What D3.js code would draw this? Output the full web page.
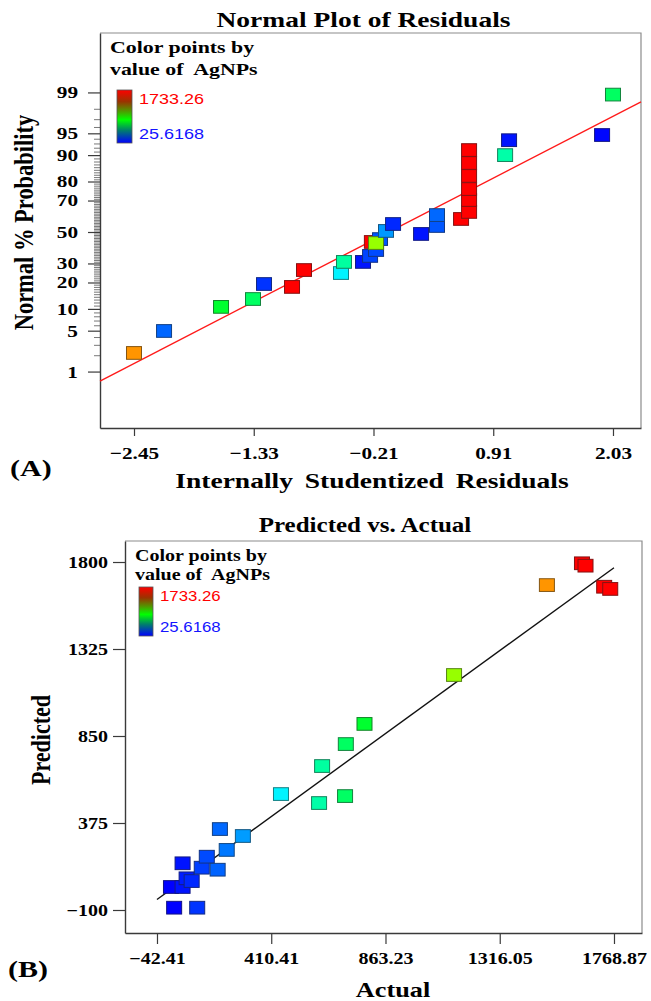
<!DOCTYPE html>
<html><head><meta charset="utf-8">
<script src="https://cdn.jsdelivr.net/npm/d3@7"></script>
<style>body{margin:0;background:#fff}svg{display:block}</style>
</head><body>
<svg id="c" width="651" height="1001"></svg>
<script>
// ---------- Panel A: Normal plot of residuals ----------
const residualsA = [-2.45, -2.169, -1.636, -1.337, -1.234, -0.972, -0.860, -0.514, -0.486, -0.308, -0.242, -0.225, -0.149, -0.186, -0.186, -0.093, -0.027, 0.235, 0.384, 0.384, 0.609, 0.684, 0.684, 0.684, 0.684, 0.684, 0.684, 1.021, 1.058, 1.928, 2.03];
const probPercentA = [2.19, 4.95, 10.6, 13.2, 19.3, 18.0, 26.3, 24.7, 30.9, 30.9, 34.5, 43.4, 45.3, 38.2, 42.7, 50.7, 55.3, 48.7, 54.0, 61.1, 58.6, 63.1, 70.3, 76.3, 82.5, 87.5, 91.4, 90.0, 93.7, 94.7, 98.9];
const agnpsA = [1503, 203, 780, 706, 114, 1733, 1656, 449, 612, 60, 144, 1642, 173, 155, 1135, 292, 95, 59, 175, 207, 1712, 1700, 1690, 1720, 1710, 1695, 1705, 600, 60, 36, 706];
const probTicks = [1, 5, 10, 20, 30, 50, 70, 80, 90, 95, 99];
const residTicks = [-2.45, -1.33, -0.21, 0.91, 2.03];
const fitResidA = [-2.768, 2.292];
const fitPercentA = [0.65, 98.49];

// ---------- Panel B: Predicted vs Actual ----------
const actualB = [13, 25.6, 117, 59, 59, 75, 95, 135, 155, 198, 234, 207, 298, 449, 600, 612, 703, 706, 780, 1135, 1503, 1642, 1656, 1730, 1754];
const predictedB = [25.6, -87.4, -87.4, 25.6, 155, 73, 58, 131, 191, 120, 228, 342, 304, 533, 484, 686, 522, 806, 916, 1183, 1674, 1793, 1780, 1665, 1653];
const actualTicks = [-42.41, 410.41, 863.23, 1316.05, 1768.87];
const predTicks = [-100, 375, 850, 1325, 1800];
const parityLine = [-42.41, 1768.87];

// ---------- colour key ----------
const colorStops = [25.6168, 470, 850, 1330, 1500, 1620, 1733.26];
const colorRange = ["#0000ff", "#00ffff", "#00ff00", "#ffff00", "#ff9900", "#ff0000", "#ff0000"];
const legendMax = "1733.26", legendMin = "25.6168";

// inverse normal CDF (Acklam)
function probit(p) {
  const a = [-3.969683028665376e+01, 2.209460984245205e+02, -2.759285104469687e+02, 1.383577518672690e+02, -3.066479806614716e+01, 2.506628277459239e+00];
  const b = [-5.447609879822406e+01, 1.615858368580409e+02, -1.556989798598866e+02, 6.680131188771972e+01, -1.328068155288572e+01];
  const c = [-7.784894002430293e-03, -3.223964580411365e-01, -2.400758277161838e+00, -2.549732539343734e+00, 4.374664141464968e+00, 2.938163982698783e+00];
  const d = [7.784695709041462e-03, 3.224671290700398e-01, 2.445134137142996e+00, 3.754408661907416e+00];
  const pl = 0.02425;
  let q, r;
  if (p < pl) { q = Math.sqrt(-2 * Math.log(p)); return (((((c[0]*q+c[1])*q+c[2])*q+c[3])*q+c[4])*q+c[5]) / ((((d[0]*q+d[1])*q+d[2])*q+d[3])*q+1); }
  if (p <= 1 - pl) { q = p - 0.5; r = q*q; return (((((a[0]*r+a[1])*r+a[2])*r+a[3])*r+a[4])*r+a[5])*q / (((((b[0]*r+b[1])*r+b[2])*r+b[3])*r+b[4])*r+1); }
  q = Math.sqrt(-2 * Math.log(1 - p)); return -(((((c[0]*q+c[1])*q+c[2])*q+c[3])*q+c[4])*q+c[5]) / ((((d[0]*q+d[1])*q+d[2])*q+d[3])*q+1);
}

const svg = d3.select('#c');
const SX = 1.25;
const SERIF = '"Liberation Serif","Times New Roman",serif';
const SANS = '"Liberation Sans",Arial,sans-serif';
const color = d3.scaleLinear().domain(colorStops).range(colorRange).clamp(true);
const edge = f => d3.interpolateRgb(f, '#202020')(0.55);

function stext(parent, str, x, y, size, o = {}) {
  const t = parent.append('text')
    .attr('transform', `translate(${x},${y}) scale(${o.sx || SX},1)${o.rot ? ' rotate(-90)' : ''}`)
    .attr('text-anchor', o.anchor || 'start')
    .style('font-family', o.family || SERIF)
    .style('font-weight', o.weight || 'bold')
    .style('font-size', size + 'px')
    .attr('fill', o.fill || '#000')
    .text(str);
  if (o.ws) t.style('word-spacing', o.ws + 'px');
  return t;
}
function styleAxis(g, size, sx, xAxis) {
  g.select('.domain').attr('stroke', '#3a3a3a').attr('stroke-width', 1.4);
  g.selectAll('.tick line').attr('stroke', '#3a3a3a').attr('stroke-width', 1.2);
  g.selectAll('.tick text').each(function () {
    const t = d3.select(this);
    let x = +t.attr('x') || 0, y = +t.attr('y') || 0;
    if (xAxis) { y = 31; t.attr('dy', 0); }
    t.attr('x', null).attr('y', null)
      .attr('transform', `translate(${x},${y}) scale(${sx},1)`)
      .style('font-family', SERIF).style('font-weight', 'bold')
      .style('font-size', size + 'px').attr('fill', '#000');
  });
}
function legend(parent, x, y, w, h, lx, size, id) {
  const grad = svg.append('defs').append('linearGradient').attr('id', id)
    .attr('x1', 0).attr('y1', 0).attr('x2', 0).attr('y2', 1);
  [[0, '#ff0000'], [0.22, '#9a3300'], [0.4, '#4f9a00'], [0.56, '#00ff00'], [0.76, '#00806a'], [1, '#0000ff']]
    .forEach(([o, c]) => grad.append('stop').attr('offset', o).attr('stop-color', c));
  parent.append('rect').attr('x', x).attr('y', y).attr('width', w).attr('height', h)
    .attr('fill', `url(#${id})`).attr('stroke', '#555').attr('stroke-width', 0.8);
  stext(parent, legendMax, lx, y + 14, size, { family: SANS, weight: 'normal', fill: '#ff0000', sx: 1.2 });
  stext(parent, legendMin, lx, y + h - 4, size, { family: SANS, weight: 'normal', fill: '#1414ff', sx: 1.2 });
}

// ================= Panel A =================
const gA = svg.append('g');
const xA = d3.scaleLinear().domain([-2.768, 2.292]).range([100, 641]);
const zA = d3.scaleLinear().domain([-3.267, 3.317]).range([428, 33]);
gA.append('path').attr('d', 'M100,33H641V428').attr('fill', 'none').attr('stroke', '#8c8c8c').attr('stroke-width', 1.2);

const minorP = d3.range(1, 100).filter(v => !probTicks.includes(v));
const gMinor = gA.append('g').attr('transform', 'translate(100,0)')
  .call(d3.axisLeft(zA).tickValues(minorP.map(v => probit(v / 100))).tickSize(6).tickFormat('').tickSizeOuter(0));
gMinor.select('.domain').remove();
gMinor.selectAll('.tick line').attr('stroke', '#555').attr('stroke-width', 0.8);

const gyA = gA.append('g').attr('transform', 'translate(100,0)')
  .call(d3.axisLeft(zA).tickValues(probTicks.map(v => probit(v / 100)))
    .tickFormat((z, i) => probTicks[i]).tickSize(12).tickPadding(10).tickSizeOuter(0));
styleAxis(gyA, 17, SX, false);
const gxA = gA.append('g').attr('transform', 'translate(0,428)')
  .call(d3.axisBottom(xA).tickValues(residTicks).tickFormat(d3.format('.2f')).tickSize(8).tickSizeOuter(0));
styleAxis(gxA, 17, SX, true);

gA.append('line')
  .attr('x1', xA(fitResidA[0])).attr('y1', zA(probit(fitPercentA[0] / 100)))
  .attr('x2', xA(fitResidA[1])).attr('y2', zA(probit(fitPercentA[1] / 100)))
  .attr('stroke', '#ff1a1a').attr('stroke-width', 1.4);

const W = 15, H = 12.7;
gA.append('g').selectAll('rect').data(residualsA).join('rect')
  .attr('x', (d, i) => xA(d) - W / 2)
  .attr('y', (d, i) => zA(probit(probPercentA[i] / 100)) - H / 2)
  .attr('width', W).attr('height', H)
  .attr('fill', (d, i) => color(agnpsA[i]))
  .attr('stroke', (d, i) => edge(color(agnpsA[i]))).attr('stroke-width', 1);

stext(gA, 'Normal Plot of Residuals', 363.5, 27, 22, { anchor: 'middle' });
stext(gA, 'Color points by', 110, 53, 17.5);
stext(gA, 'value of\u00a0 AgNPs', 110, 75, 17.5);
legend(gA, 117, 90, 15, 53, 139, 15, 'gradA');
stext(gA, 'Internally Studentized Residuals', 372, 488, 22, { anchor: 'middle', ws: 4 });
stext(gA, 'Normal % Probability', 33, 222.5, 22.5, { anchor: 'middle', rot: true });
stext(gA, '(A)', 10, 476, 24);

// ================= Panel B =================
const gB = svg.append('g');
const xB = d3.scaleLinear().domain([-169.2, 1879.9]).range([125, 642]);
const yB = d3.scaleLinear().domain([-225.6, 1914.7]).range([933, 541]);
gB.append('path').attr('d', 'M125,541H642V933').attr('fill', 'none').attr('stroke', '#8c8c8c').attr('stroke-width', 1.2);
const gyB = gB.append('g').attr('transform', 'translate(125,0)')
  .call(d3.axisLeft(yB).tickValues(predTicks).tickFormat(d3.format('d')).tickSize(12).tickPadding(5).tickSizeOuter(0));
styleAxis(gyB, 16, SX, false);
const gxB = gB.append('g').attr('transform', 'translate(0,933)')
  .call(d3.axisBottom(xB).tickValues(actualTicks).tickFormat(d3.format('.2f')).tickSize(11).tickSizeOuter(0));
styleAxis(gxB, 16, SX, true);

gB.append('line')
  .attr('x1', xB(parityLine[0])).attr('y1', yB(parityLine[0]))
  .attr('x2', xB(parityLine[1])).attr('y2', yB(parityLine[1]))
  .attr('stroke', '#111').attr('stroke-width', 1.4);

gB.append('g').selectAll('rect').data(actualB).join('rect')
  .attr('x', d => xB(d) - W / 2)
  .attr('y', (d, i) => yB(predictedB[i]) - H / 2)
  .attr('width', W).attr('height', H)
  .attr('fill', d => color(d))
  .attr('stroke', d => edge(color(d))).attr('stroke-width', 1);

stext(gB, 'Predicted vs. Actual', 365, 532, 20, { anchor: 'middle' });
stext(gB, 'Color points by', 135, 561, 16);
stext(gB, 'value of\u00a0 AgNPs', 135, 580, 16);
legend(gB, 139, 587, 14, 49, 160, 14, 'gradB');
stext(gB, 'Actual', 393, 997, 21, { anchor: 'middle' });
stext(gB, 'Predicted', 50, 740, 22, { anchor: 'middle', rot: true });
stext(gB, '(B)', 8, 977, 24);
</script>
</body></html>
